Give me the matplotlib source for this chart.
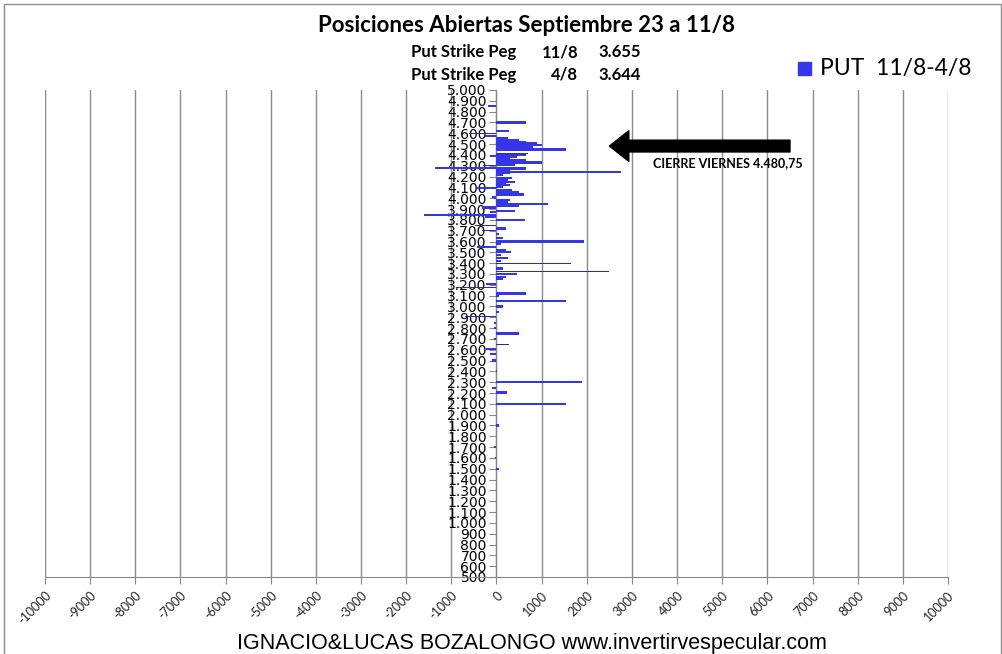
import matplotlib
matplotlib.use("Agg")
import matplotlib.pyplot as plt
from matplotlib.patches import Rectangle

# strikes / open interest change (PUT 11/8 - 4/8)
strikes = [4850, 4815, 4700, 4625, 4575, 4560, 4535, 4520, 4505, 4490, 4475,
           4460, 4450, 4400, 4390, 4385, 4365, 4355, 4340, 4330, 4320, 4305,
           4280, 4275, 4260, 4245, 4230, 4215, 4185, 4170, 4150, 4135, 4120,
           4100, 4095, 4075, 4055, 4035, 4015, 4000, 3985, 3965, 3945, 3930,
           3915, 3885, 3870, 3845, 3825, 3800, 3720, 3670, 3630, 3600, 3575,
           3550, 3520, 3500, 3475, 3450, 3420, 3350, 3300, 3275, 3250, 3210,
           3120, 3100, 3050, 3000, 2950, 2850, 2800, 2750, 2700, 2605, 2560,
           2500, 2400, 2300, 2250, 2205, 2100, 1900, 1700, 1600, 1500]
puts = [-190, -20, 650, 280, -250, 250, 500, 650, 900, 1000, 800,
        450, 1550, 650, -150, 450, 300, 650, 400, 1000, 300, 400,
        -1360, 650, 300, 2750, 300, 150, 350, 250, 400, 200, 300,
        150, -450, 350, 500, 600, -100, -50, 300, 250, 1130, 500,
        -320, 410, -150, -1600, -250, 630, 200, 50, 150, 1940, 100,
        -430, 200, 320, 100, 250, 100, 150, 450, 200, 150, -230,
        650, 50, 1530, 150, 50, -50, -50, 500, -50, -230, -150,
        -100, 20, 1890, -100, 230, 1530, 50, -50, -30, 50]

# thin lines
thin_strikes = [4600, 4415, 4300, 3745, 3700, 3650, 3400, 3320, 3175, 2905, 2650]
thin_puts = [-600, 700, -300, -470, -330, -600, 1650, 2490, -900, -700, 280]

y_ticks = list(range(500, 5001, 100))
x_ticks = list(range(-10000, 10001, 1000))

W, H = 1003, 654
fig = plt.figure(figsize=(W / 100, H / 100), dpi=100)
fig.patch.set_facecolor("white")

def fx(px):
    return px / W

def fy(py):
    return 1 - py / H

ax = fig.add_axes([fx(45), fy(577), fx(948) - fx(45), fy(90) - fy(577)])

bar_col = "#3535EC"
ax.barh(strikes, puts, height=20, color=bar_col, zorder=3, label="PUT  11/8-4/8")
ax.barh(thin_strikes, thin_puts, height=7, color="#2B2BB0", zorder=3)

ax.set_xlim(-10000, 10000)
ax.set_ylim(500, 5000)
ax.set_xticks(x_ticks)
ax.set_xticklabels([str(v) for v in x_ticks], rotation=45, ha="right",
                   va="top", rotation_mode="anchor", fontsize=9,
                   family="Lato", color="#222222")
ax.set_yticks(y_ticks)
ax.set_yticklabels([f"{v:,}".replace(",", ".") for v in y_ticks],
                   fontsize=9, family="Lato")
ax.tick_params(axis="y", length=5, color="#888888", pad=2)
ax.tick_params(axis="x", length=5, color="#888888", pad=4)

ax.grid(axis="x", color="#8c8c8c", lw=1, zorder=0)
ax.spines["left"].set_position(("data", 0))
ax.spines["left"].set_color("#888888")
ax.spines["bottom"].set_color("#888888")
ax.spines["top"].set_visible(False)
ax.spines["right"].set_visible(False)

# closing price arrow
ax.annotate("", xy=(2500, 4482), xytext=(6500, 4482),
            arrowprops=dict(facecolor="black", edgecolor="black", width=8.5,
                            headwidth=22, headlength=14), zorder=5)
ax.text(5130, 4325, "CIERRE VIERNES 4.480,75", fontsize=9, fontweight="bold",
        family="Lato", ha="center", va="center", zorder=5)

fig.text(fx(527), fy(25), "Posiciones Abiertas Septiembre 23 a 11/8",
         fontsize=16, fontweight="bold", family="Lato", ha="center", va="center")
for py, d, v in [(52, "11/8", "3.655"), (75, "4/8", "3.644")]:
    fig.text(fx(411), fy(py), "Put Strike Peg", fontsize=12, fontweight="bold",
             family="Lato", ha="left", va="center")
    fig.text(fx(578), fy(py), d, fontsize=12, fontweight="bold",
             family="Lato", ha="right", va="center")
    fig.text(fx(598), fy(py), v, fontsize=12, fontweight="bold",
             family="Lato", ha="left", va="center")

# legend
fig.patches.append(Rectangle((fx(798), fy(75)), fx(13), fy(62) - fy(75),
                             transform=fig.transFigure, color=bar_col))
fig.text(fx(820), fy(68), "PUT  11/8-4/8", fontsize=16.5, family="Lato",
         ha="left", va="center")

fig.text(fx(532), fy(643), "IGNACIO&LUCAS BOZALONGO www.invertirvespecular.com",
         fontsize=15.5, family="Liberation Sans", ha="center", va="center")

# outer frame
fig.patches.append(Rectangle((fx(4), fy(660)), fx(997), fy(4) - fy(660),
                             transform=fig.transFigure, fill=False,
                             edgecolor="#8c8c8c", lw=1))

fig.savefig("out.png", dpi=100)
